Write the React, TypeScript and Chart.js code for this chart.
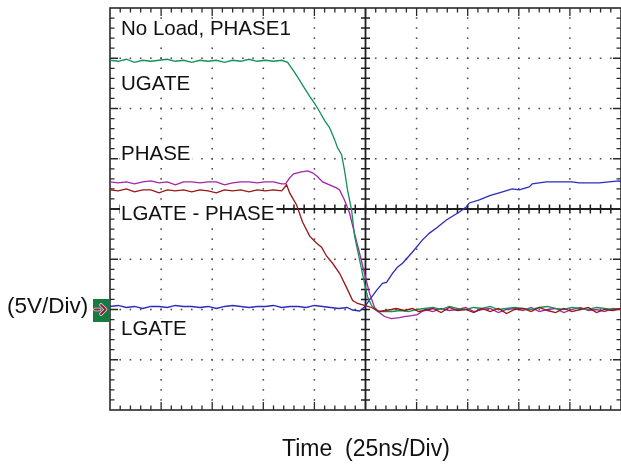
import { useEffect, useRef } from 'react';
import { Chart, registerables } from 'chart.js';

Chart.register(...registerables);

// Axis settings: 25 ns/div (10 div), 5 V/div (8 div), ground 2 div below centre
const TIME_MIN = 0;
const TIME_MAX = 250;
const TIME_DIV = 25;
const V_MIN = -10;
const V_MAX = 30;
const V_DIV = 5;

const TRACE_LABELS = ['No Load, PHASE1', 'UGATE', 'PHASE', 'LGATE - PHASE', 'LGATE'];
const VOLT_LABEL = '(5V/Div)';
const TIME_LABEL = 'Time  (25ns/Div)';

// UGATE (green)
const UGATE_T = [0, 4, 8, 12, 16, 20, 24, 28, 32, 36, 40, 44, 48, 52, 56, 60, 64, 68, 72, 76, 80, 84, 86.9,
  90.3, 92.8, 95.2, 97.7, 100.1, 102.5, 105.0, 107.4, 109.9, 111.3, 113.3, 114.7, 116.2, 118.2, 119.6, 121.1, 123.0, 124.5, 126.0, 127.9, 130.9,
  134, 138, 142, 146, 150,
  154, 158, 162, 166, 170, 174, 178, 182, 186, 190, 194, 198, 202, 206, 210, 214, 218, 222, 226, 230, 234, 238, 242, 246, 250];
const UGATE_V = [24.8, 24.7, 24.9, 24.6, 24.8, 24.7, 24.8, 24.9, 24.7, 24.8, 24.6, 24.8, 24.7, 24.8, 24.6, 24.8, 24.7, 24.9, 24.7, 24.8, 24.7, 24.8, 24.6,
  23.6, 22.8, 22.0, 21.2, 20.5, 19.7, 18.8, 18.1, 16.9, 16.1, 15.4, 13.9, 11.9, 9.9, 7.4, 5.9, 4.1, 2.6, 1.3, 0.4, -0.2,
  -0.2, -0.2, -0.1, -0.2, 0.0,
  0.1, 0.2, 0.0, 0.3, 0.1, 0.0, 0.2, 0.1, 0.3, 0.0, 0.1, 0.2, 0.1, 0.0, 0.2, 0.3, 0.1, 0.0, 0.2, 0.1, 0.0, 0.2, 0.1, 0.0, 0.1];

// PHASE (magenta)
const PHASE_T = [0, 4, 8, 12, 16, 20, 24, 28, 32, 36, 40, 44, 48, 52, 56, 60, 64, 68, 72, 76, 80, 84,
  85.9, 87.9, 89.8, 93.7, 96.7, 99.1, 101.6, 104.0, 107.4, 110.8, 112.3, 114.7, 117.2, 119.6, 122.1, 124.5, 127.0, 129.4, 131.8, 134.3, 137.7, 141.6, 144.0, 147.5, 150.4,
  154, 158, 162, 166, 170, 174, 178, 182, 186, 190, 194, 198, 202, 206, 210, 214, 218, 222, 226, 230, 234, 238, 242, 246, 250];
const PHASE_V = [12.7, 12.6, 12.7, 12.5, 12.7, 12.8, 12.6, 12.7, 12.4, 12.7, 12.7, 12.6, 12.7, 12.7, 12.4, 12.6, 12.7, 12.7, 12.6, 12.7, 12.7, 12.5,
  12.5, 13.1, 13.5, 13.7, 13.8, 13.6, 13.2, 12.7, 12.4, 12.1, 11.9, 10.9, 9.6, 7.6, 5.6, 3.6, 1.6, 0.2, -0.3, -0.7, -0.9, -0.8, -0.7, -0.6, -0.5,
  0.0, -0.2, 0.1, -0.1, 0.0, 0.2, -0.2, 0.0, 0.1, -0.3, 0.0, 0.1, -0.1, 0.2, -0.2, 0.0, 0.1, -0.3, 0.0, 0.2, -0.1, 0.0, -0.2, 0.1, 0.0];

// LGATE - PHASE (dark red)
const LGP_T = [0, 4, 8, 12, 16, 20, 24, 28, 32, 36, 40, 44, 48, 52, 56, 60, 64, 68, 72, 76, 80, 84,
  86.4, 87.9, 91.3, 94.2, 97.7, 101.1, 103.5, 106.0, 108.9, 112.3, 115.7, 118.7, 121.1, 124.5, 127.9, 131.8, 134.8, 137.7, 140, 144, 148, 151,
  154, 158, 162, 166, 170, 174, 178, 182, 186, 190, 194, 198, 202, 206, 210, 214, 218, 222, 226, 230, 234, 238, 242, 246, 250];
const LGP_V = [11.9, 11.8, 12.0, 11.7, 11.9, 11.9, 11.6, 11.9, 11.8, 11.9, 11.7, 11.9, 11.8, 11.6, 11.9, 11.8, 11.9, 11.7, 11.9, 11.8, 11.9, 11.8,
  12.4, 11.6, 10.4, 8.7, 7.3, 6.6, 6.2, 5.3, 4.6, 3.6, 2.2, 0.9, 0.6, 0.4, 0.2, -0.2, -0.1, 0.0, 0.1, -0.1, 0.1, -0.2,
  -0.1, 0.1, -0.3, 0.2, -0.1, 0.0, -0.3, 0.1, -0.2, 0.1, -0.4, 0.0, 0.1, -0.2, 0.2, -0.1, -0.3, 0.1, -0.2, 0.0, 0.2, -0.3, 0.0, -0.1, 0.1];

// LGATE (blue)
const LGATE_T = [0, 4, 8, 12, 16, 20, 24, 28, 32, 36, 40, 44, 48, 52, 56, 60, 64, 68, 72, 76, 80, 84, 88, 92, 96, 100, 104, 108, 112, 116,
  118.7, 122.1, 124.5, 127.0, 130.4, 133.3, 135.3, 138.2, 140.6, 143.1, 147.9, 152.8, 156.3, 159.7, 164.6, 168.5, 170.9, 174.3, 175.8, 180.7,
  185.5, 187.0, 190.4, 196.8, 200.2, 205.1, 206.6, 213.4, 221.2, 226.1, 229.5, 234.4, 239.3, 244.1, 249.0, 250];
const LGATE_V = [0.3, 0.4, 0.2, 0.3, 0.1, 0.3, 0.3, 0.2, 0.4, 0.3, 0.3, 0.2, 0.3, 0.1, 0.3, 0.4, 0.3, 0.2, 0.3, 0.3, 0.4, 0.2, 0.3, 0.3, 0.2, 0.4, 0.3, 0.2, 0.1, 0.2,
  -0.05, -0.15, 0.25, 0.95, 1.9, 2.6, 2.7, 3.6, 4.2, 4.6, 5.7, 6.9, 7.6, 8.1, 8.9, 9.4, 9.7, 10.2, 10.6, 10.9,
  11.3, 11.4, 11.6, 12.0, 11.9, 12.2, 12.5, 12.7, 12.7, 12.7, 12.6, 12.6, 12.6, 12.7, 12.8, 12.7];

const zip = (t: number[], v: number[]) => t.map((x, i) => ({ x, y: v[i] }));

const FONT = '"Liberation Sans", Arial, Helvetica, sans-serif';

const scopePlugin = {
  id: 'scope',
  beforeDatasetsDraw(chart: any) {
    const { ctx, chartArea: a, scales } = chart;
    const sx = scales.x;
    const sy = scales.y;
    const nT = Math.round((TIME_MAX - TIME_MIN) / TIME_DIV);
    const nV = Math.round((V_MAX - V_MIN) / V_DIV);
    const cT = TIME_MIN + (nT / 2) * TIME_DIV;
    const cV = V_MIN + (nV / 2) * V_DIV;
    const cx = sx.getPixelForValue(cT);
    const cy = sy.getPixelForValue(cV);
    ctx.save();

    // dotted graticule
    ctx.fillStyle = '#505050';
    for (let i = 1; i < nT; i++) {
      if (i === nT / 2) continue;
      const px = sx.getPixelForValue(TIME_MIN + i * TIME_DIV);
      for (let k = 1; k < nV * 5; k++) {
        const py = sy.getPixelForValue(V_MIN + (k * V_DIV) / 5);
        ctx.fillRect(px - 0.8, py - 0.8, 1.6, 1.6);
      }
    }
    for (let j = 1; j < nV; j++) {
      if (j === nV / 2) continue;
      const py = sy.getPixelForValue(V_MIN + j * V_DIV);
      for (let k = 1; k < nT * 5; k++) {
        const px = sx.getPixelForValue(TIME_MIN + (k * TIME_DIV) / 5);
        ctx.fillRect(px - 0.8, py - 0.8, 1.6, 1.6);
      }
    }

    // centre cross with ticks
    ctx.strokeStyle = '#1e1e1e';
    ctx.lineWidth = 1.8;
    ctx.beginPath();
    ctx.moveTo(cx, a.top); ctx.lineTo(cx, a.bottom);
    ctx.moveTo(a.left, cy); ctx.lineTo(a.right, cy);
    ctx.stroke();
    ctx.lineWidth = 1.5;
    ctx.beginPath();
    for (let k = 1; k < nV * 5; k++) {
      const py = sy.getPixelForValue(V_MIN + (k * V_DIV) / 5);
      ctx.moveTo(cx - 4.5, py); ctx.lineTo(cx + 4.5, py);
    }
    for (let k = 1; k < nT * 5; k++) {
      const px = sx.getPixelForValue(TIME_MIN + (k * TIME_DIV) / 5);
      ctx.moveTo(px, cy - 4.5); ctx.lineTo(px, cy + 4.5);
    }
    ctx.stroke();

    // frame with inward ticks
    ctx.strokeStyle = '#2a2a2a';
    ctx.lineWidth = 1.6;
    ctx.strokeRect(a.left, a.top, a.right - a.left, a.bottom - a.top);
    ctx.lineWidth = 1.3;
    ctx.beginPath();
    for (let k = 1; k < nV * 5; k++) {
      const py = sy.getPixelForValue(V_MIN + (k * V_DIV) / 5);
      const len = k % 5 === 0 ? 8 : 4.5;
      ctx.moveTo(a.left, py); ctx.lineTo(a.left + len, py);
      ctx.moveTo(a.right, py); ctx.lineTo(a.right - len, py);
    }
    for (let k = 1; k < nT * 5; k++) {
      const px = sx.getPixelForValue(TIME_MIN + (k * TIME_DIV) / 5);
      const len = k % 5 === 0 ? 8 : 4.5;
      ctx.moveTo(px, a.top); ctx.lineTo(px, a.top + len);
      ctx.moveTo(px, a.bottom); ctx.lineTo(px, a.bottom - len);
    }
    ctx.stroke();

    // trace labels
    const baselines = [35, 90, 160, 220, 335];
    ctx.font = '20.5px ' + FONT;
    ctx.textBaseline = 'alphabetic';
    TRACE_LABELS.forEach((txt, i) => {
      const x = a.left + 11;
      const y = baselines[i];
      const w = ctx.measureText(txt).width;
      ctx.fillStyle = '#ffffff';
      ctx.fillRect(x - 1, y - 16, w + 3, 20);
      ctx.fillStyle = '#111111';
      ctx.fillText(txt, x, y);
    });
    ctx.restore();
  },
  afterDraw(chart: any) {
    const { ctx, chartArea: a, scales } = chart;
    const g = scales.y.getPixelForValue(0);
    ctx.save();
    // ground marker
    ctx.fillStyle = '#177a3f';
    ctx.fillRect(a.left - 17, g - 10.5, 17, 23);
    ctx.lineCap = 'round';
    ctx.lineJoin = 'round';
    const drawArrow = () => {
      ctx.beginPath();
      ctx.moveTo(a.left - 15, g);
      ctx.lineTo(a.left - 10.5, g);
      ctx.moveTo(a.left - 9, g - 4.5);
      ctx.lineTo(a.left - 4.5, g);
      ctx.lineTo(a.left - 9, g + 4.5);
      ctx.stroke();
    };
    ctx.strokeStyle = '#f0d8e0';
    ctx.lineWidth = 3.6;
    drawArrow();
    ctx.strokeStyle = '#8e1840';
    ctx.lineWidth = 2;
    drawArrow();

    ctx.fillStyle = '#111111';
    ctx.textBaseline = 'alphabetic';
    ctx.font = '22.5px ' + FONT;
    ctx.fillText(VOLT_LABEL, 7, g + 3.5);
    ctx.font = '23px ' + FONT;
    ctx.fillText(TIME_LABEL, 282, 456);
    ctx.restore();
  },
};

export default function App() {
  const ref = useRef<HTMLCanvasElement | null>(null);
  useEffect(() => {
    if (!ref.current) return;
    const common = { pointRadius: 0, borderWidth: 1.3, tension: 0, fill: false };
    const chart = new Chart(ref.current, {
      type: 'line',
      data: {
        datasets: [
          { label: 'LGATE - PHASE', data: zip(LGP_T, LGP_V), borderColor: '#9a1414', ...common },
          { label: 'UGATE', data: zip(UGATE_T, UGATE_V), borderColor: '#14905a', ...common },
          { label: 'PHASE', data: zip(PHASE_T, PHASE_V), borderColor: '#a324a8', ...common },
          { label: 'LGATE', data: zip(LGATE_T, LGATE_V), borderColor: '#2b2bbf', ...common },
        ],
      },
      options: {
        animation: false,
        responsive: true,
        maintainAspectRatio: false,
        layout: { padding: { left: 110, top: 8, right: 0, bottom: 58 } },
        scales: {
          x: { type: 'linear', min: TIME_MIN, max: TIME_MAX, display: false },
          y: { type: 'linear', min: V_MIN, max: V_MAX, display: false },
        },
        plugins: { legend: { display: false }, tooltip: { enabled: false } },
      },
      plugins: [scopePlugin],
    } as any);
    return () => chart.destroy();
  }, []);
  return (
    <div style={{ position: 'fixed', left: 0, top: 0, width: 621, height: 468, background: '#ffffff' }}>
      <canvas ref={ref} />
    </div>
  );
}
